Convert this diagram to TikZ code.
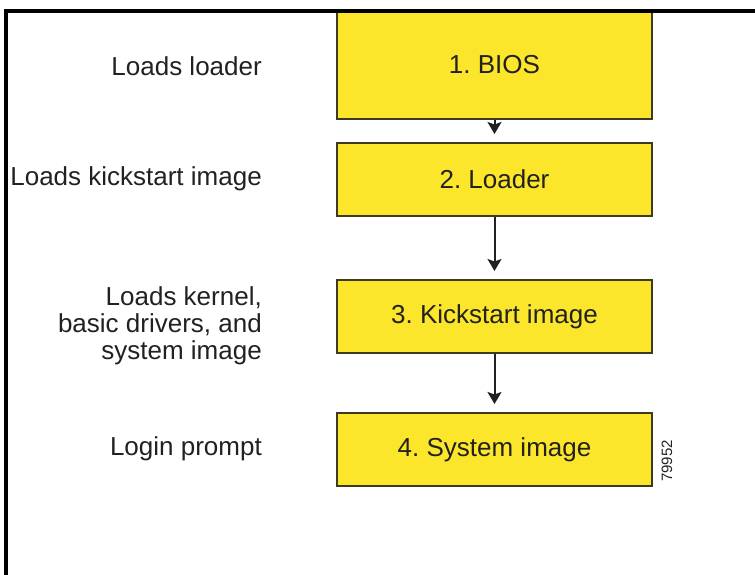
\documentclass[tikz,border=0pt]{standalone}
\usepackage{fontspec}
\setmainfont{Liberation Sans}
\usepackage{tikz}
\usetikzlibrary{arrows.meta,positioning}
\definecolor{bootFill}{HTML}{FBE62B}
\definecolor{bootEdge}{HTML}{3E3A22}
\definecolor{bootInk}{HTML}{222120}
\frenchspacing

\tikzset{
  stage/.style={draw=bootEdge,line width=2pt,fill=bootFill,text=bootInk,
    minimum width=315pt,minimum height=73pt,inner sep=0pt,
    font=\fontsize{26}{30}\selectfont},
  note/.style={anchor=east,align=right,text=bootInk,inner sep=0pt,
    font=\fontsize{26}{27}\selectfont},
  flow/.style={-{Stealth[length=12pt,width=14pt,inset=2.5pt]},line width=2pt,
    draw=bootInk,shorten >=8pt}
}

\begin{document}
\begin{tikzpicture}[x=1pt,y=-1pt]
  \useasboundingbox (0,0) rectangle (755,575);

  \node[stage,minimum height=108pt] (bios) at (494.5,65) {1. BIOS};
  \node[stage,below=22pt of bios] (loader) {2. Loader};
  \node[stage,below=62pt of loader] (kick) {3. Kickstart image};
  \node[stage,below=58pt of kick] (sysimg) {4. System image};

  % what each stage does
  \node[note] (biosnote) at (262,66) {Loads loader};
  \node[note] (loadernote) at (262,179) {Loads kickstart image};
  \node[note] (kicknote) at (262,326) {Loads kernel,\\basic drivers, and\\system image};
  \node[note] (sysnote) at (262,449) {Login prompt};

  \node[rotate=90,text=bootInk,inner sep=0pt,
        font=\fontsize{15}{15}\selectfont] (fignum) at (667,461) {79952};

  \draw[flow] (bios) -- (loader);
  \draw[flow] (loader) -- (kick);
  \draw[flow] (kick) -- (sysimg);

  % frame
  \draw[line width=3.5pt] (6,575) -- (6,11) -- (755,11);
\end{tikzpicture}
\end{document}
